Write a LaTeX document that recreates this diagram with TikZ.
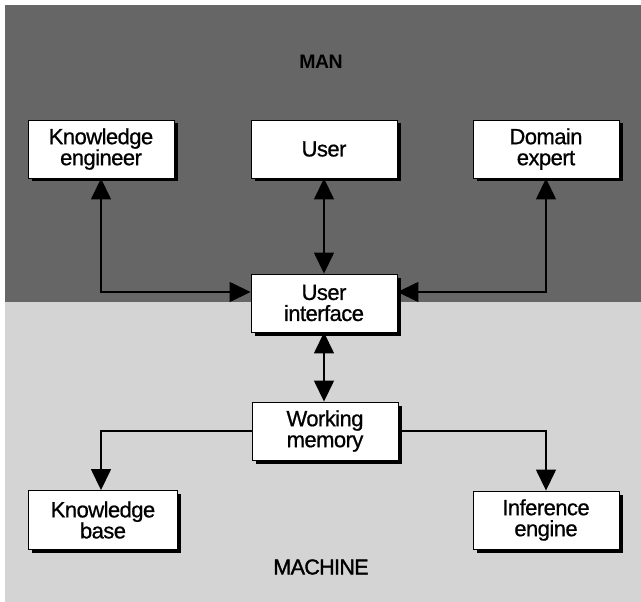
\documentclass[tikz,border=0pt]{standalone}
\usepackage{fontspec}
\setmainfont{Liberation Sans}
\newfontfamily\boxfont[FakeBold=0.8,LetterSpace=-2.5]{Liberation Sans}
\newfontfamily\titlefont[FakeBold=1.5,LetterSpace=-3]{Liberation Sans}
\newfontfamily\titleboldfont[LetterSpace=-3]{Liberation Sans Bold}
\usetikzlibrary{arrows.meta,shadows}
\definecolor{mandark}{gray}{0.40}
\definecolor{machlight}{gray}{0.83}
\begin{document}
\begin{tikzpicture}[x=1pt,y=-1pt,
  box/.style={draw=black, line width=0.9pt, fill=white, minimum width=146pt,
    minimum height=58pt, align=center, inner sep=0pt,
    font=\boxfont\fontsize{22}{21}\selectfont,
    drop shadow={shadow xshift=3.5pt, shadow yshift=-3.5pt, fill=black, opacity=1}},
  tip/.tip={Triangle[length=21pt,width=20pt]},
  both/.style={line width=1.5pt, tip-tip},
  one/.style={line width=1.5pt, -tip},
  title/.style={font=\titlefont\fontsize{21.5}{22}\selectfont}]
\useasboundingbox (0,0) rectangle (641,602);
\fill[mandark] (5,5) rectangle (641,302);
\fill[machlight] (5,302) rectangle (641,602);

\node[font=\titleboldfont\fontsize{19.5}{20}\selectfont] (man) at (321,62) {MAN};
\node[title] (machine) at (321,567) {MACHINE};

\node[box] (ke) at (101,149) {Knowledge\\engineer};
\node[box] (user) at (324,149) {User};
\node[box] (de) at (546,149) {Domain\\expert};
\node[box] (ui) at (324,303) {User\\interface};
\node[box] (wm) at (325,431) {Working\\memory};
\node[box, minimum width=149pt, minimum height=59pt] (kb) at (103,520) {Knowledge\\base};
\node[box] (ie) at (546,520) {Inference\\engine};

\draw[both] (ke.south) |- ([yshift=11pt]ui.west);
\draw[both] (de.south) |- ([yshift=11pt]ui.east);
\draw[both] (user.south) -- (ui.north);
\draw[both] (ui.south) -- (ui.south |- wm.north);
\draw[one] (wm.west) -| ([xshift=-2pt]kb.north);
\draw[one] (wm.east) -| (ie.north);
\end{tikzpicture}
\end{document}
